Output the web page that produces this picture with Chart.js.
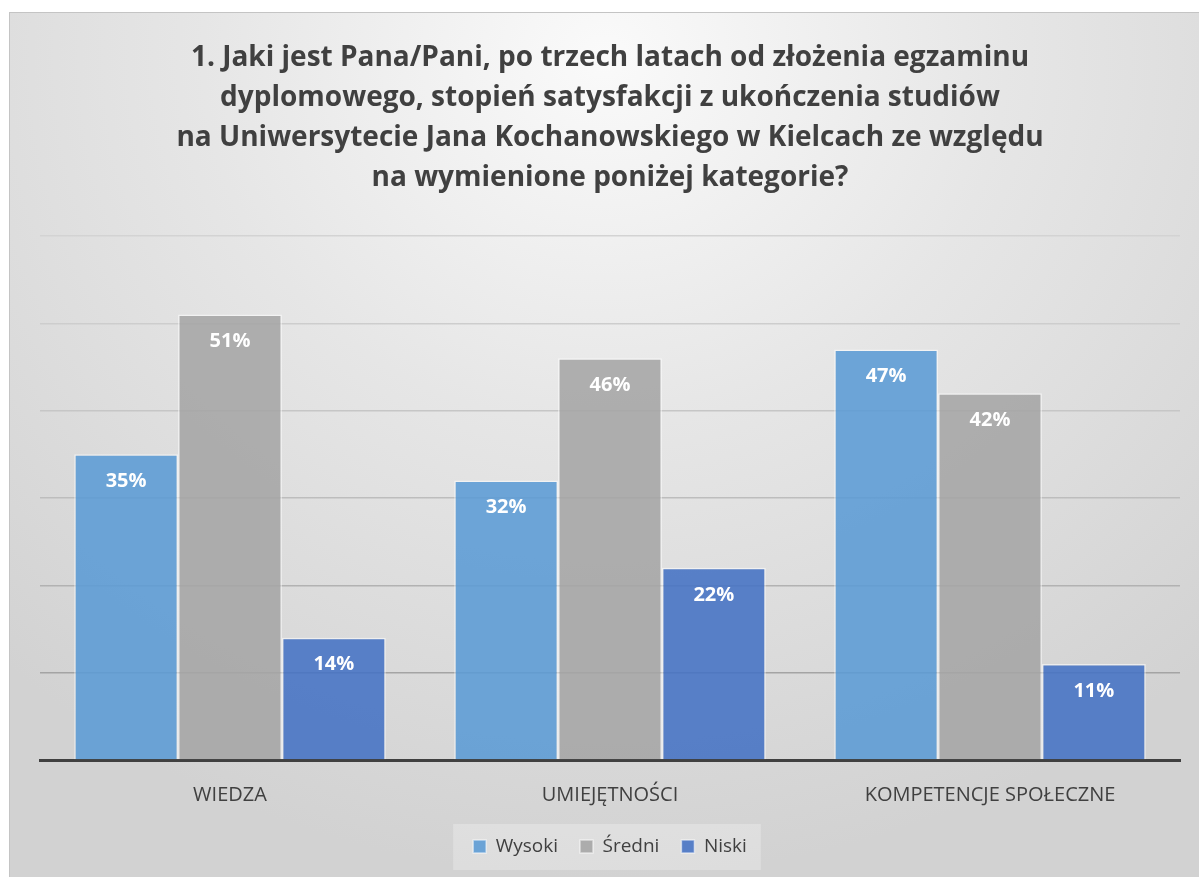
<!DOCTYPE html>
<html>
<head>
<meta charset="utf-8">
<script src="https://cdn.jsdelivr.net/npm/chart.js@4.4.1/dist/chart.umd.min.js"></script>
<style>
    html, body { margin: 0; padding: 0; background: #ffffff; }
    #box {
        position: absolute;
        left: 9px;
        top: 12px;
        width: 1190px;
        height: 865px;
        border-left: 1px solid #c4c4c4;
        border-top: 1px solid #c4c4c4;
        box-sizing: border-box;
        background: radial-gradient(ellipse 75% 95% at 50% 5%, #fafafa 0%, #e6e6e6 45%, #d2d2d2 100%);
    }
</style>
</head>
<body>
<div id="box"><canvas id="chart"></canvas></div>
<script>
// Chart data
const categories = ['WIEDZA', 'UMIEJĘTNOŚCI', 'KOMPETENCJE SPOŁECZNE'];
const seriesNames = ['Wysoki', 'Średni', 'Niski'];
const wysoki = [35, 32, 47];
const sredni = [51, 46, 42];
const niski = [14, 22, 11];
const yTicks = [0, 10, 20, 30, 40, 50, 60];

const titleLines = [
    '1. Jaki jest Pana/Pani, po trzech latach od złożenia egzaminu',
    'dyplomowego, stopień satysfakcji z ukończenia studiów',
    'na Uniwersytecie Jana Kochanowskiego w Kielcach ze względu',
    'na wymienione poniżej kategorie?'
];

const textColor = '#404040';
const fontFamily = "'Open Sans', 'Noto Sans', sans-serif";

// White percentage labels near the top of each bar
const barLabels = {
    id: 'barLabels',
    afterDatasetsDraw(chart) {
        const ctx = chart.ctx;
        ctx.save();
        ctx.font = `bold 20px ${fontFamily}`;
        ctx.fillStyle = '#ffffff';
        ctx.textAlign = 'center';
        ctx.textBaseline = 'middle';
        chart.data.datasets.forEach((ds, i) => {
            chart.getDatasetMeta(i).data.forEach((bar, j) => {
                ctx.fillText(ds.data[j] + '%', bar.x, bar.y + 27);
            });
        });
        ctx.restore();
    }
};

// Light panel behind the legend
const legendPanel = {
    id: 'legendPanel',
    beforeDraw(chart) {
        const lg = chart.legend;
        if (!lg || !lg.legendHitBoxes.length) return;
        const boxes = lg.legendHitBoxes;
        const left = boxes[0].left - 20;
        const right = boxes[boxes.length - 1].left + boxes[boxes.length - 1].width + 14;
        const ctx = chart.ctx;
        ctx.save();
        ctx.fillStyle = 'rgba(255,255,255,0.25)';
        ctx.fillRect(left, boxes[0].top - 13, right - left, 46);
        ctx.restore();
    }
};

const gridColors = {
    10: '#a4a4a4', 20: '#b2b2b2', 30: '#bdbdbd',
    40: '#c6c6c6', 50: '#cdcdcd', 60: '#d3d3d3'
};

new Chart(document.getElementById('chart'), {
    type: 'bar',
    data: {
        labels: categories,
        datasets: [
            {
                label: seriesNames[0],
                data: wysoki,
                backgroundColor: 'rgba(91,155,213,0.88)'
            },
            {
                label: seriesNames[1],
                data: sredni,
                backgroundColor: 'rgba(165,165,165,0.88)'
            },
            {
                label: seriesNames[2],
                data: niski,
                backgroundColor: 'rgba(68,114,196,0.88)'
            }
        ].map(ds => Object.assign(ds, {
            borderColor: 'rgba(255,255,255,0.55)',
            borderWidth: 1.5,
            categoryPercentage: 0.82,
            barPercentage: 1.0
        }))
    },
    options: {
        responsive: true,
        maintainAspectRatio: false,
        animation: false,
        layout: {
            padding: { left: 30, right: 19, top: 0, bottom: 11 }
        },
        plugins: {
            title: {
                display: true,
                text: titleLines,
                color: textColor,
                font: { family: fontFamily, size: 28, weight: 'bold', lineHeight: 40 / 28 },
                padding: { top: 25, bottom: 38 }
            },
            legend: {
                position: 'bottom',
                labels: {
                    color: textColor,
                    font: { family: fontFamily, size: 19 },
                    boxWidth: 13,
                    boxHeight: 13,
                    padding: 22
                }
            },
            tooltip: { enabled: false }
        },
        scales: {
            x: {
                grid: { display: false, drawTicks: false },
                border: { display: true, color: '#404040', width: 3 },
                ticks: {
                    color: textColor,
                    font: { family: fontFamily, size: 20 },
                    padding: 23
                },
                afterFit: (axis) => { axis.height = 55; }
            },
            y: {
                min: 0,
                max: 60,
                afterBuildTicks: (axis) => {
                    axis.ticks = yTicks.map(v => ({ value: v }));
                },
                afterFit: (axis) => { axis.width = 0; },
                grid: {
                    drawTicks: false,
                    lineWidth: 1.5,
                    color: (c) => gridColors[c.tick.value] || 'rgba(0,0,0,0)'
                },
                border: { display: false },
                ticks: { display: false }
            }
        }
    },
    plugins: [legendPanel, barLabels]
});
</script>
</body>
</html>
